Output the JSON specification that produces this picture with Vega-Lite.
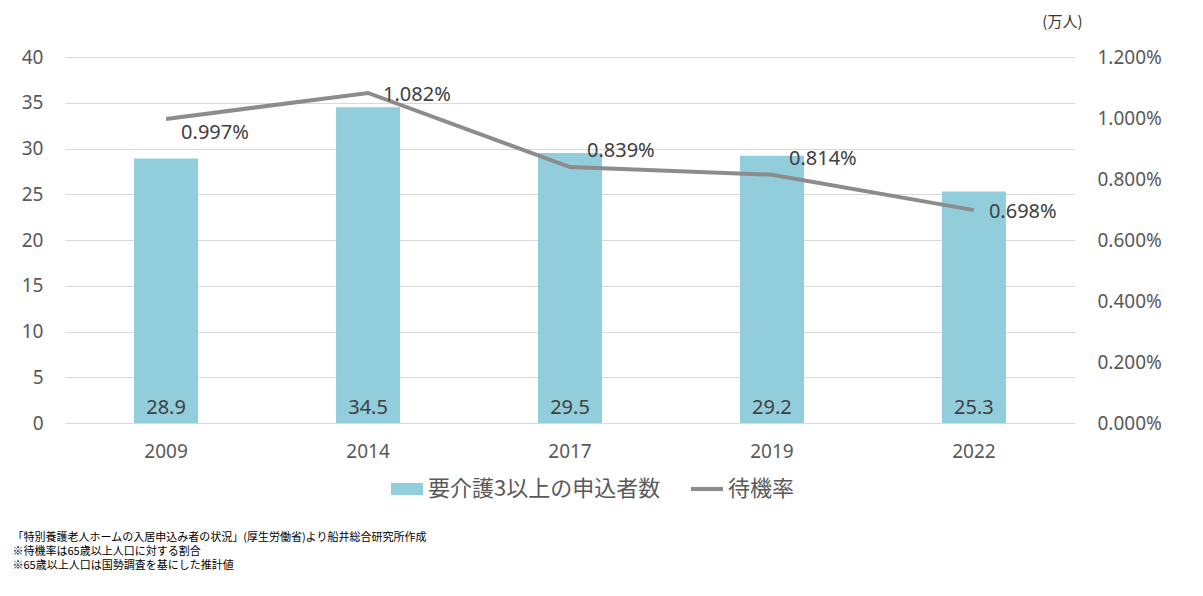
{
  "$schema": "https://vega.github.io/schema/vega-lite/v6.json",
  "autosize": "none",
  "width": 1010,
  "height": 366,
  "padding": {"left": 65, "top": 57, "right": 128, "bottom": 173},
  "background": "white",
  "config": {
    "font": "Noto Sans, Noto Sans CJK JP, sans-serif",
    "view": {"stroke": null}
  },
  "data": {
    "values": [
      {"year": "2009", "applicants": 28.9, "rate": 0.00997},
      {"year": "2014", "applicants": 34.5, "rate": 0.01082},
      {"year": "2017", "applicants": 29.5, "rate": 0.00839},
      {"year": "2019", "applicants": 29.2, "rate": 0.00814},
      {"year": "2022", "applicants": 25.3, "rate": 0.00698}
    ]
  },
  "encoding": {
    "x": {
      "field": "year",
      "type": "nominal",
      "sort": null,
      "scale": {"paddingInner": 0.683, "paddingOuter": 0.342},
      "axis": {
        "labelAngle": 0,
        "labelFontSize": 19,
        "labelColor": "#595959",
        "labelPadding": 19,
        "domain": false,
        "ticks": false,
        "title": [
          "「特別養護老人ホームの入居申込み者の状況」(厚生労働省)より船井総合研究所作成",
          "※待機率は65歳以上人口に対する割合",
          "※65歳以上人口は国勢調査を基にした推計値"
        ],
        "titleX": -53,
        "titleY": 108,
        "titleAlign": "left",
        "titleAnchor": "start",
        "titleBaseline": "top",
        "titleFontSize": 11,
        "titleFontWeight": "normal",
        "titleLineHeight": 14,
        "titleColor": "#000000",
        "titleFont": "Noto Sans CJK JP"
      }
    }
  },
  "layer": [
    {
      "layer": [
        {
          "mark": {"type": "bar"},
          "encoding": {
            "y": {
              "field": "applicants",
              "type": "quantitative",
              "scale": {"domain": [0, 40]},
              "axis": {
                "orient": "left",
                "values": [0, 5, 10, 15, 20, 25, 30, 35, 40],
                "grid": true,
                "gridColor": "#D9D9D9",
                "gridWidth": 1,
                "domain": false,
                "ticks": false,
                "labelFontSize": 19,
                "labelColor": "#595959",
                "labelPadding": 22,
                "title": "(万人)",
                "titleAngle": 0,
                "titleX": 1017,
                "titleY": -36,
                "titleAlign": "right",
                "titleBaseline": "middle",
                "titleFontSize": 15,
                "titleFontWeight": "normal",
                "titleColor": "#333333",
                "titleFont": "Noto Sans CJK JP"
              }
            },
            "color": {
              "datum": "要介護3以上の申込者数",
              "type": "nominal",
              "scale": {
                "domain": ["要介護3以上の申込者数", "待機率"],
                "range": ["#92CDDC", "#8C8C8C"]
              },
              "legend": {
                "orient": "none",
                "legendX": 326,
                "legendY": 416,
                "direction": "horizontal",
                "title": null,
                "labelFontSize": 22,
                "labelLimit": 0,
                "labelColor": "#595959",
                "labelFont": "Noto Sans CJK JP",
                "symbolSize": 1024,
                "symbolStrokeWidth": 0,
                "labelOffset": 5,
                "columnPadding": 30,
                "encode": {
                  "symbols": {
                    "update": {
                      "shape": {"signal": "datum.value === '待機率' ? 'M-1,-0.13H1V0.13H-1Z' : 'M-1,-0.38H1V0.38H-1Z'"},
                      "fill": {"signal": "datum.value === '待機率' ? '#8C8C8C' : '#92CDDC'"},
                      "opacity": {"value": 1},
                      "strokeWidth": {"value": 0}
                    }
                  }
                }
              }
            }
          }
        },
        {
          "mark": {"type": "text", "baseline": "middle", "dy": -15, "fontSize": 20, "color": "#404040"},
          "encoding": {
            "y": {"datum": 0, "type": "quantitative"},
            "text": {"field": "applicants", "type": "quantitative", "format": ".1f"}
          }
        }
      ]
    },
    {
      "layer": [
        {
          "mark": {"type": "line", "strokeWidth": 4, "strokeCap": "butt"},
          "encoding": {
            "y": {
              "field": "rate",
              "type": "quantitative",
              "scale": {"domain": [0, 0.012]},
              "axis": {
                "orient": "right",
                "values": [0, 0.002, 0.004, 0.006, 0.008, 0.01, 0.012],
                "format": ".3%",
                "grid": false,
                "domain": false,
                "ticks": false,
                "labelFontSize": 19,
                "labelColor": "#595959",
                "labelPadding": 22,
                "title": null
              }
            },
            "color": {"datum": "待機率", "type": "nominal"}
          }
        },
        {
          "transform": [{"filter": "datum.year === '2009'"}],
          "mark": {"type": "text", "align": "left", "baseline": "middle", "dx": 15, "dy": 14, "fontSize": 20, "color": "#404040"},
          "encoding": {
            "y": {"field": "rate", "type": "quantitative"},
            "text": {"field": "rate", "type": "quantitative", "format": ".3%"}
          }
        },
        {
          "transform": [{"filter": "datum.year === '2014' || datum.year === '2022'"}],
          "mark": {"type": "text", "align": "left", "baseline": "middle", "dx": 15, "dy": 2, "fontSize": 20, "color": "#404040"},
          "encoding": {
            "y": {"field": "rate", "type": "quantitative"},
            "text": {"field": "rate", "type": "quantitative", "format": ".3%"}
          }
        },
        {
          "transform": [{"filter": "datum.year === '2017' || datum.year === '2019'"}],
          "mark": {"type": "text", "align": "left", "baseline": "middle", "dx": 17, "dy": -16, "fontSize": 20, "color": "#404040"},
          "encoding": {
            "y": {"field": "rate", "type": "quantitative"},
            "text": {"field": "rate", "type": "quantitative", "format": ".3%"}
          }
        }
      ]
    }
  ],
  "resolve": {"scale": {"y": "independent"}}
}
